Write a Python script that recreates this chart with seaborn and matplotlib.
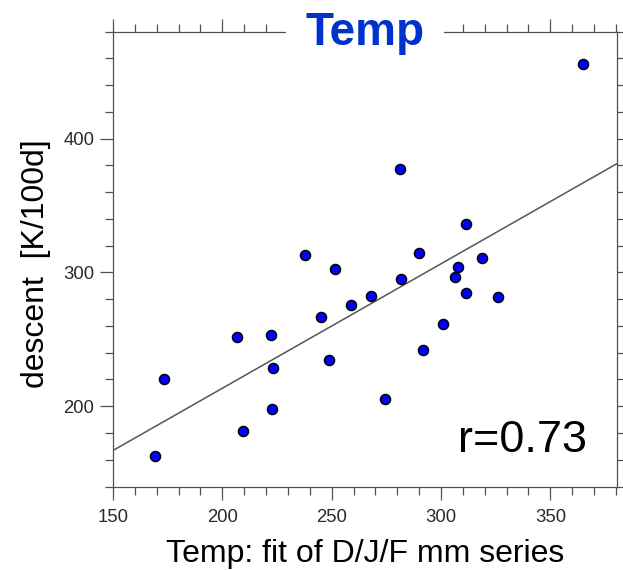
import matplotlib
matplotlib.use("Agg")
import matplotlib.pyplot as plt
from matplotlib.ticker import MultipleLocator
import seaborn as sns
import pandas as pd

# Winter (D/J/F) temperature fit vs. descent rate, one point per season
temp_fit = [169.3, 173.3, 206.5, 209.5, 222.3, 223.4, 222.7, 238.0, 245.0,
            248.9, 251.7, 258.7, 267.8, 274.2, 281.1, 281.8, 290.0, 291.6,
            301.0, 306.6, 307.7, 311.3, 311.5, 318.8, 326.1, 365.1]
descent = [162.6, 220.7, 251.6, 181.1, 253.1, 228.2, 197.8, 313.2, 266.9,
           234.2, 302.2, 275.8, 282.0, 205.2, 377.6, 294.8, 314.7, 241.7,
           261.1, 296.5, 304.3, 335.9, 284.3, 310.7, 281.3, 455.8]

x_ticks = [150, 200, 250, 300, 350]
y_ticks = [200, 300, 400]
title_text = "Temp"
corr_text = "r=0.73"
x_label = "Temp: fit of D/J/F mm series"
y_label = "descent  [K/100d]"

df = pd.DataFrame({"temp_fit": temp_fit, "descent": descent})

sns.set_theme(style="ticks")
plt.rcParams["font.family"] = ["Liberation Sans", "DejaVu Sans"]

W, H = 623, 570
fig = plt.figure(figsize=(W / 100, H / 100), dpi=100)
left, right, bottom, top = 113, 617, 486.5, 31.5
ax = fig.add_axes([left / W, 1 - bottom / H, (right - left) / W, (bottom - top) / H])

XLIM = (150, 380.5)
YLIM = (140, 480)
ax.set_xlim(*XLIM)
ax.set_ylim(*YLIM)

sns.regplot(
    data=df, x="temp_fit", y="descent", ax=ax, ci=None, truncate=False,
    color="#0000ff",
    scatter_kws=dict(s=52, edgecolor="black", linewidths=1.1, alpha=1, zorder=3),
    line_kws=dict(color="#555555", lw=1.1, zorder=2),
)
ax.set_xlim(*XLIM)
ax.set_ylim(*YLIM)

ax.set_xticks(x_ticks)
ax.set_yticks(y_ticks)
ax.xaxis.set_minor_locator(MultipleLocator(10))
ax.yaxis.set_minor_locator(MultipleLocator(20))

axis_gray = "#505050"
for sp in ax.spines.values():
    sp.set_color(axis_gray)
    sp.set_linewidth(0.9)
    sp.set_visible(True)

ax.tick_params(which="both", direction="out", top=True, right=True,
               labeltop=False, labelright=False, color=axis_gray, width=0.9)
ax.tick_params(which="major", length=9.5, labelsize=13.3, labelcolor="#2a2a2a")
ax.tick_params(axis="x", which="major", pad=7)
ax.tick_params(axis="y", which="major", pad=4)
ax.tick_params(which="minor", length=6)

# Axis titles
ax.set_xlabel(x_label, fontsize=23, va="baseline", color="black")
ax.xaxis.set_label_coords(0.5, (bottom - 562) / (bottom - top))
ax.set_ylabel(y_label, fontsize=23, va="center", ha="center", color="black")
ax.yaxis.set_label_coords((36.5 - left) / (right - left), (bottom - 264) / (bottom - top))

# Title sitting on the top frame, masking the frame behind it
ax.annotate(title_text, xy=(0.5, 1.0), xycoords="axes fraction",
            xytext=(0, -9.5), textcoords="offset points",
            ha="center", va="baseline", fontsize=33, fontweight="bold",
            color="#0033cc", zorder=10, annotation_clip=False,
            bbox=dict(boxstyle="square,pad=0.42", fc="white", ec="none"))

# Correlation coefficient
ax.text((587 - left) / (right - left), (bottom - 451.7) / (bottom - top), corr_text,
        transform=ax.transAxes, ha="right", va="baseline", fontsize=32.5, color="black")

fig.savefig("out.png", dpi=100)
